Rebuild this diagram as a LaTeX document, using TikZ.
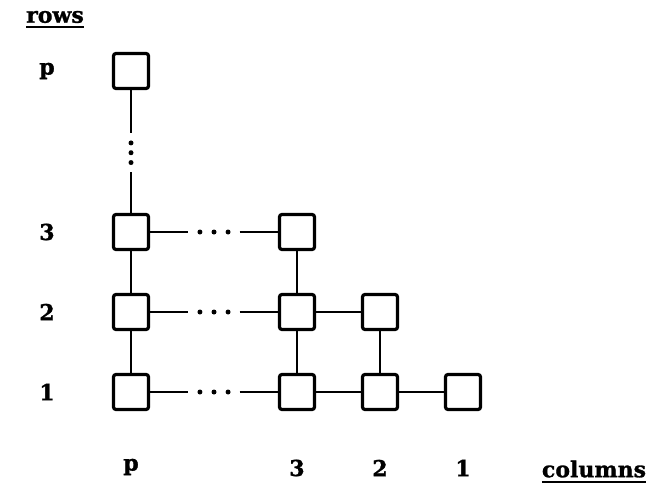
\documentclass[tikz,border=0pt]{standalone}
\usepackage{fontspec}
\setmainfont{DejaVu Serif}
\newfontfamily\lblfont{DejaVu Serif Bold}[FakeBold=1.2]
\usetikzlibrary{calc}
\tikzset{
  cell/.style={draw, line width=3.2pt, minimum size=35pt, inner sep=0pt, rounded corners=2.5pt},
  link/.style={line width=2.6pt},
  bead/.style={circle, fill=black, inner sep=0pt, minimum size=5pt},
  lbl/.style={font=\fontsize{22}{26}\selectfont\lblfont, inner sep=0pt},
  uline/.style={line width=2.4pt},
}
\begin{document}
\begin{tikzpicture}[x=1pt,y=-1pt]
\useasboundingbox (0,0) rectangle (657,498);
% cells
\node[cell] (pp) at (131,71) {};
\node[cell] (p3) at (131,232) {};
\node[cell] (p2) at (131,312) {};
\node[cell] (p1) at (131,392) {};
\node[cell] (c33) at (297,232) {};
\node[cell] (c32) at (297,312) {};
\node[cell] (c31) at (297,392) {};
\node[cell] (c22) at (380,312) {};
\node[cell] (c21) at (380,392) {};
\node[cell] (c11) at (463,392) {};
% solid links
\draw[link] (p3) -- (p2);
\draw[link] (p2) -- (p1);
\draw[link] (c33) -- (c32);
\draw[link] (c32) -- (c31);
\draw[link] (c22) -- (c21);
\draw[link] (c32) -- (c22);
\draw[link] (c31) -- (c21);
\draw[link] (c21) -- (c11);
% dotted links (horizontal)
\foreach \r in {3,2,1}{
  \draw[link] (p\r.east) -- ($(p\r.east)!0.30!(c3\r.west)$);
  \draw[link] ($(p\r.east)!0.70!(c3\r.west)$) -- (c3\r.west);
  \node[bead] (h\r a) at ($(p\r.east)!0.39!(c3\r.west)$) {};
  \node[bead] (h\r b) at ($(p\r.east)!0.50!(c3\r.west)$) {};
  \node[bead] (h\r c) at ($(p\r.east)!0.61!(c3\r.west)$) {};
}
% dotted link (vertical)
\draw[link] (pp.south) -- ($(pp.south)!0.35!(p3.north)$);
\draw[link] ($(pp.south)!0.67!(p3.north)$) -- (p3.north);
\node[bead] (va) at ($(pp.south)!0.43!(p3.north)$) {};
\node[bead] (vb) at ($(pp.south)!0.51!(p3.north)$) {};
\node[bead] (vc) at ($(pp.south)!0.59!(p3.north)$) {};
% labels
\node[lbl] (rows) at (55,17) {rows};
\draw[uline] ([yshift=-4.5pt]rows.base west) -- ([yshift=-4.5pt]rows.base east);
\node[lbl] (rp) at (47,71) {p};
\node[lbl] (r3) at (47,232) {3};
\node[lbl] (r2) at (47,312) {2};
\node[lbl] (r1) at (47,392) {1};
\node[lbl] (cp) at (131,467) {p};
\node[lbl] (k3) at (297,468) {3};
\node[lbl] (k2) at (380,468) {2};
\node[lbl] (k1) at (463,468) {1};
\node[lbl] (cols) at (594,469) {columns};
\draw[uline] ([yshift=-4.5pt]cols.base west) -- ([yshift=-4.5pt]cols.base east);
\end{tikzpicture}
\end{document}
